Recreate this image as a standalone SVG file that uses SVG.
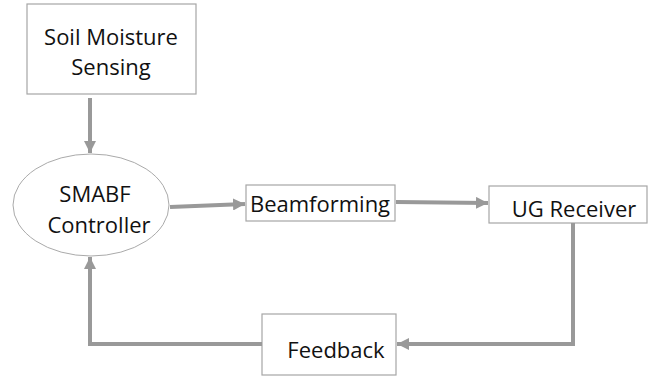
<svg xmlns="http://www.w3.org/2000/svg" width="648" height="379" viewBox="0 0 648 379">
  <style>
    .box { fill: #ffffff; stroke: #a6a6a6; stroke-width: 1.2; }
    .lbl { font-family: "Open Sans", "Noto Sans", sans-serif; font-size: 22px; fill: #111111; }
    .wire { fill: none; stroke: #999999; stroke-width: 4; }
  </style>
  <defs>
    <marker id="head" viewBox="0 0 10 10" refX="10" refY="5" markerWidth="3" markerHeight="3" markerUnits="strokeWidth" orient="auto">
      <path d="M0,0 L10,5 L0,10 Z" fill="#999999"/>
    </marker>
  </defs>
  <rect width="648" height="379" fill="#ffffff"/>

  <g id="soil-moisture-sensing">
    <rect class="box" x="27" y="4" width="169" height="90"/>
    <text class="lbl" x="111" y="45" text-anchor="middle">Soil Moisture</text>
    <text class="lbl" x="111" y="75" text-anchor="middle">Sensing</text>
  </g>

  <g id="smabf-controller">
    <ellipse cx="91" cy="205" rx="78" ry="51" fill="#ffffff" stroke="#aaaaaa" stroke-width="1"/>
    <text class="lbl" x="95" y="202" text-anchor="middle">SMABF</text>
    <text class="lbl" x="99" y="233" text-anchor="middle">Controller</text>
  </g>

  <g id="beamforming">
    <rect class="box" x="246" y="185" width="149" height="36"/>
    <text class="lbl" x="320" y="212" text-anchor="middle">Beamforming</text>
  </g>

  <g id="ug-receiver">
    <rect class="box" x="489" y="186" width="158" height="37"/>
    <text class="lbl" x="574" y="217" text-anchor="middle">UG Receiver</text>
  </g>

  <g id="feedback">
    <rect class="box" x="262" y="314" width="134" height="61"/>
    <text class="lbl" x="336" y="358" text-anchor="middle">Feedback</text>
  </g>

  <g id="connectors">
    <path class="wire" d="M90,98 L90,153" marker-end="url(#head)"/>
    <path class="wire" d="M170,207 L245,204" marker-end="url(#head)"/>
    <path class="wire" d="M396,202 L488,203" marker-end="url(#head)"/>
    <path class="wire" d="M573,223 L573,344 L397,344" marker-end="url(#head)"/>
    <path class="wire" d="M262,344 L90,344 L90,257" marker-end="url(#head)"/>
  </g>
</svg>
